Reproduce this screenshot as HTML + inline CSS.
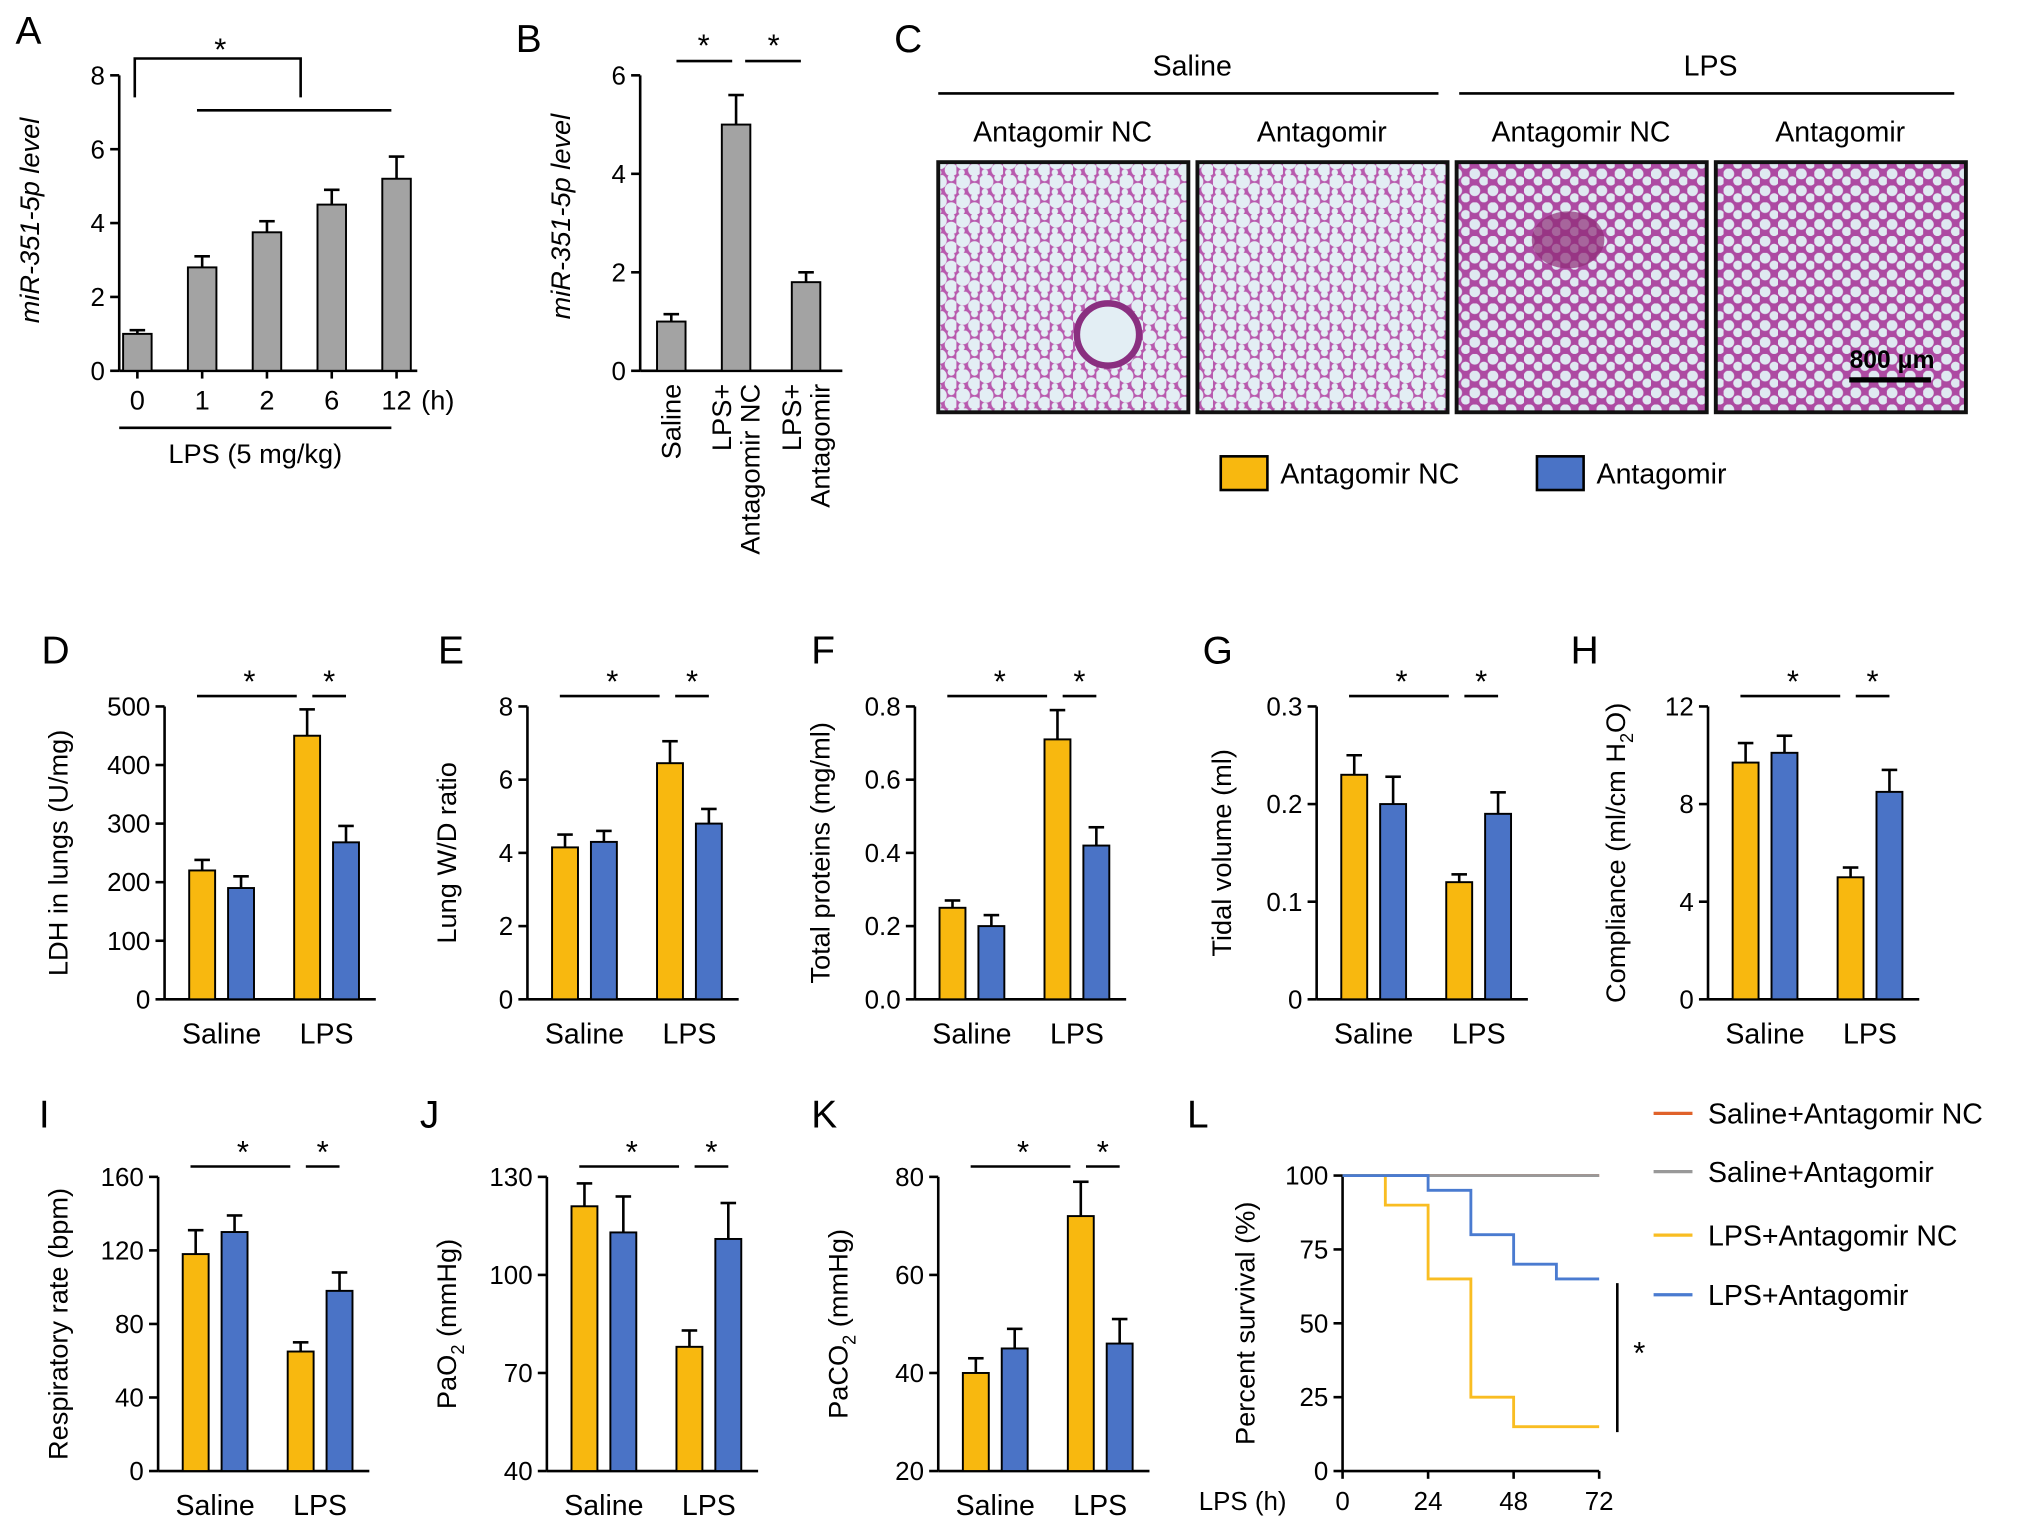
<!DOCTYPE html>
<html><head><meta charset="utf-8"><style>
html,body{margin:0;padding:0;background:#fff;}
svg{display:block;font-family:"Liberation Sans",Arial,sans-serif;}
</style></head><body>
<svg id="fig" width="2032" height="1536" viewBox="0 0 1568 1185" xmlns="http://www.w3.org/2000/svg">
<defs>
<pattern id="tis1" width="18" height="15" patternUnits="userSpaceOnUse">
<rect width="18" height="15" fill="#b85aae"/>
<circle cx="5" cy="5" r="5.6" fill="#e3eef4"/><circle cx="14" cy="11" r="5" fill="#e3eef4"/><circle cx="14" cy="2" r="2.8" fill="#e3eef4"/><circle cx="4" cy="13" r="2.5" fill="#e3eef4"/>
</pattern>
<pattern id="tis2" width="14" height="13" patternUnits="userSpaceOnUse">
<rect width="14" height="13" fill="#ad4aa2"/>
<circle cx="4" cy="4" r="4.2" fill="#dfe9f1"/><circle cx="11" cy="9.5" r="3.6" fill="#dfe9f1"/>
</pattern>
</defs>
<g id="root"></g>
</svg>
<script>
const NS='http://www.w3.org/2000/svg';
const root=document.getElementById('root');
function mk(tag,attrs,parent,txt){const e=document.createElementNS(NS,tag);for(const k in attrs)e.setAttribute(k,attrs[k]);if(txt!==undefined)e.textContent=txt;(parent||root).appendChild(e);return e;}
const YEL='#f8b80f',BLU='#4a73c6';

// ---------- data ----------
const aCats=['0','1','2','6','12'];
const aVals=[1,2.8,3.75,4.5,5.2];
const aErr=[0.1,0.3,0.3,0.4,0.6];
const aTicks=[0,2,4,6,8];
const bVals=[1,5,1.8];
const bErr=[0.15,0.6,0.2];
const bTicks=[0,2,4,6];
const groups=['Saline','LPS'];
const dNC=[220,450],dNCe=[18,45],dAG=[190,268],dAGe=[20,28],dTicks=[0,100,200,300,400,500];
const eNC=[4.15,6.45],eNCe=[0.35,0.6],eAG=[4.3,4.8],eAGe=[0.3,0.4],eTicks=[0,2,4,6,8];
const fNC=[0.25,0.71],fNCe=[0.02,0.08],fAG=[0.2,0.42],fAGe=[0.03,0.05],fTicks=[0,0.2,0.4,0.6,0.8];
const gNC=[0.23,0.12],gNCe=[0.02,0.008],gAG=[0.2,0.19],gAGe=[0.028,0.022],gTicks=[0,0.1,0.2,0.3];
const hNC=[9.7,5],hNCe=[0.8,0.4],hAG=[10.1,8.5],hAGe=[0.7,0.9],hTicks=[0,4,8,12];
const iNC=[118,65],iNCe=[13,5],iAG=[130,98],iAGe=[9,10],iTicks=[0,40,80,120,160];
const jNC=[121,78],jNCe=[7,5],jAG=[113,111],jAGe=[11,11],jTicks=[40,70,100,130];
const kNC=[40,72],kNCe=[3,7],kAG=[45,46],kAGe=[4,5],kTicks=[20,40,60,80];
const lTimes=[0,12,24,36,42,48,60,72];
const lSalNC=[100,100,100,100,100,100,100,100];
const lSalAG=[100,100,100,100,100,100,100,100];
const lLpsNC=[100,90,65,25,25,15,15,15];
const lLpsAG=[100,100,95,80,80,70,65,65];
const lTicks=[0,24,48,72];
const lYTicks=[0,25,50,75,100];

function letter(t,x,y){const e=mk('text',{x,y,'font-size':30},root,t);}
function line(x1,y1,x2,y2,g,w){return mk('line',{x1,y1,x2,y2,stroke:'#000','stroke-width':w||2},g);}
function star(x,y,g){const e=mk('text',{x,y,'font-size':24,'text-anchor':'middle'},g,'*');return e;}

function yAxis(g,ax,y0,y1,min,max,ticks,fmt){
  const sy=v=>y0-(v-min)/(max-min)*(y0-y1);
  line(ax,y0,ax,y1,g);
  ticks.forEach(t=>{line(ax-7,sy(t),ax,sy(t),g);const e=mk('text',{x:ax-11,y:sy(t)+7,'font-size':20,'text-anchor':'end'},g,fmt?fmt(t):t);});
  return sy;
}
function bar(g,cx,w,v,err,sy,fill,name){
  const y=sy(v);
  const base=g.__base;
  line(cx,sy(v+err),cx,y,g,2);line(cx-6,sy(v+err),cx+6,sy(v+err),g,2);
  const r=mk('rect',{x:cx-w/2,y:y,width:w,height:base-y,fill,stroke:'#000','stroke-width':1.5},g);
  
}
function ylabel(g,x,y,parts,italic){
  const t=mk('text',{x:0,y:0,'font-size':21,'text-anchor':'middle',transform:`translate(${x},${y}) rotate(-90)`,'font-style':italic?'italic':'normal'},g);
  parts.forEach(p=>{mk('tspan',p.sub?{'font-size':14,dy:6}:(p.after?{dy:-6}:{}),t,p.t);});
  
}

// ---------- Panel A ----------
(function(){
 const g=mk('g',{});
 letter('A',12,34);
 const y0=286,y1=58,sy=yAxis(g,92,y0,y1,0,8,aTicks);g.__base=y0;
 line(92,y0,322,y0,g);
 const xs=i=>106+i*50;
 aCats.forEach((c,i)=>{bar(g,xs(i),22,aVals[i],aErr[i],sy,'#a3a3a3','bar-'+c+'h');line(xs(i),y0,xs(i),y0+6,g);
  const e=mk('text',{x:xs(i),y:316,'font-size':21,'text-anchor':'middle'},g,c);});
 mk('text',{x:325,y:316,'font-size':21},g,'(h)');
 line(92,330,302,330,g);
 mk('text',{x:197,y:357,'font-size':21,'text-anchor':'middle'},g,'LPS (5 mg/kg)');
 mk('polyline',{points:'104,75 104,45 232,45 232,75',fill:'none',stroke:'#000','stroke-width':2},g);
 line(152,85,302,85,g);star(170,46,g);
 ylabel(g,30,170,[{t:'miR-351-5p level'}],true);
})();

// ---------- Panel B ----------
(function(){
 const g=mk('g',{});
 letter('B',398,40);
 const y0=286,y1=58,sy=yAxis(g,494,y0,y1,0,6,bTicks);g.__base=y0;
 line(494,y0,650,y0,g);
 const xs=[518,568,622];const labs=[['Saline'],['LPS+','Antagomir NC'],['LPS+','Antagomir']];
 bVals.forEach((v,i)=>{bar(g,xs[i],22,v,bErr[i],sy,'#a3a3a3','bar-b-'+i);
  const t=mk('text',{x:0,y:0,'font-size':21,'text-anchor':'end',transform:`translate(${xs[i]+7},${296}) rotate(-90)`},g);
  labs[i].forEach((l,k)=>mk('tspan',{x:0,dy:k?22:(labs[i].length>1?-11:0)},t,l));
  });
 line(522,47,565,47,g);line(575,47,618,47,g);star(543,43,g);star(597,43,g);
 ylabel(g,440,167,[{t:'miR-351-5p level'}],true);
})();

// ---------- Panel C ----------
(function(){
 const g=mk('g',{});
 letter('C',690,40);
 mk('text',{x:920,y:58,'font-size':22,'text-anchor':'middle'},g,'Saline');
 mk('text',{x:1320,y:58,'font-size':22,'text-anchor':'middle'},g,'LPS');
 line(724,72,1110,72,g);line(1126,72,1508,72,g);
 const xs=[724,924,1124,1324],labs=['Antagomir NC','Antagomir','Antagomir NC','Antagomir'],pats=['tis1','tis1','tis2','tis2'];
 xs.forEach((x,i)=>{mk('text',{x:x+96,y:109,'font-size':22,'text-anchor':'middle'},g,labs[i]);
  const r=mk('rect',{x,y:125,width:193,height:193,fill:`url(#${pats[i]})`,stroke:'#111','stroke-width':3},g);
  });
 mk('circle',{cx:855,cy:258,r:24,fill:'#e3eef4',stroke:'#8a2f80','stroke-width':5},g);
 mk('ellipse',{cx:1210,cy:185,rx:28,ry:22,fill:'#8f2c78',opacity:0.7},g);
 mk('text',{x:1460,y:284,'font-size':19,'text-anchor':'middle','font-weight':'bold'},g,'800 μm');
 line(1427,293,1490,293,g,4);
 const l=mk('g',{},g);
 mk('rect',{x:942,y:352,width:36,height:26,fill:YEL,stroke:'#000','stroke-width':2},l);
 mk('text',{x:988,y:373,'font-size':22},l,'Antagomir NC');
 mk('rect',{x:1186,y:352,width:36,height:26,fill:BLU,stroke:'#000','stroke-width':2},l);
 mk('text',{x:1232,y:373,'font-size':22},l,'Antagomir');
})();

// ---------- grouped bar panels ----------
function grouped(o){
 const g=mk('g',{});
 letter(o.id.toUpperCase(),o.lx,o.ly);
 const sy=yAxis(g,o.ax,o.y0,o.y1,o.min,o.max,o.ticks,o.fmt);g.__base=o.y0;
 line(o.ax,o.y0,o.ax+163,o.y0,g);
 const c=[o.ax+29,o.ax+59,o.ax+110,o.ax+140];
 for(let i=0;i<2;i++){
  bar(g,c[i*2],20,o.nc[i],o.nce[i],sy,YEL,'bar-'+groups[i].toLowerCase()+'-antagomir-nc');
  bar(g,c[i*2+1],20,o.ag[i],o.age[i],sy,BLU,'bar-'+groups[i].toLowerCase()+'-antagomir');
  const e=mk('text',{x:(c[i*2]+c[i*2+1])/2,y:o.y0+34,'font-size':22,'text-anchor':'middle'},g,groups[i]);
  
 }
 const sl=o.y1-8;
 line(c[0]-4,sl,c[2]-8,sl,g);line(c[2]+4,sl,c[3],sl,g);
 star((c[0]+c[2])/2-4,sl-3,g);star((c[2]+c[3])/2+2,sl-3,g);
 ylabel(g,o.tx,(o.y0+o.y1)/2,o.title);
}
const R2=[771,545],R3=[1135,908];
grouped({id:'d',lx:32,ly:512,ax:127,y0:R2[0],y1:R2[1],min:0,max:500,ticks:dTicks,nc:dNC,nce:dNCe,ag:dAG,age:dAGe,tx:52,title:[{t:'LDH in lungs (U/mg)'}]});
grouped({id:'e',lx:338,ly:512,ax:407,y0:R2[0],y1:R2[1],min:0,max:8,ticks:eTicks,nc:eNC,nce:eNCe,ag:eAG,age:eAGe,tx:352,title:[{t:'Lung W/D ratio'}]});
grouped({id:'f',lx:626,ly:512,ax:706,y0:R2[0],y1:R2[1],min:0,max:0.8,ticks:fTicks,fmt:t=>t.toFixed(1),nc:fNC,nce:fNCe,ag:fAG,age:fAGe,tx:640,title:[{t:'Total proteins (mg/ml)'}]});
grouped({id:'g',lx:928,ly:512,ax:1016,y0:R2[0],y1:R2[1],min:0,max:0.3,ticks:gTicks,fmt:t=>t===0?'0':t.toFixed(1),nc:gNC,nce:gNCe,ag:gAG,age:gAGe,tx:950,title:[{t:'Tidal volume (ml)'}]});
grouped({id:'h',lx:1212,ly:512,ax:1318,y0:R2[0],y1:R2[1],min:0,max:12,ticks:hTicks,nc:hNC,nce:hNCe,ag:hAG,age:hAGe,tx:1254,title:[{t:'Compliance (ml/cm H'},{t:'2',sub:1},{t:'O)',after:1}]});
grouped({id:'i',lx:30,ly:870,ax:122,y0:R3[0],y1:R3[1],min:0,max:160,ticks:iTicks,nc:iNC,nce:iNCe,ag:iAG,age:iAGe,tx:52,title:[{t:'Respiratory rate (bpm)'}]});
grouped({id:'j',lx:324,ly:870,ax:422,y0:R3[0],y1:R3[1],min:40,max:130,ticks:jTicks,nc:jNC,nce:jNCe,ag:jAG,age:jAGe,tx:352,title:[{t:'PaO'},{t:'2',sub:1},{t:' (mmHg)',after:1}]});
grouped({id:'k',lx:626,ly:870,ax:724,y0:R3[0],y1:R3[1],min:20,max:80,ticks:kTicks,nc:kNC,nce:kNCe,ag:kAG,age:kAGe,tx:654,title:[{t:'PaCO'},{t:'2',sub:1},{t:' (mmHg)',after:1}]});

// ---------- Panel L ----------
(function(){
 const g=mk('g',{});
 letter('L',916,870);
 const ax=1036,y0=1135,y1=907,x1=1234;
 const sy=yAxis(g,ax,y0,y1,0,100,lYTicks);
 const sx=t=>ax+t/72*(x1-ax);
 line(ax,y0,x1,y0,g);
 lTicks.forEach(t=>{line(sx(t),y0,sx(t),y0+6,g);const e=mk('text',{x:sx(t),y:y0+30,'font-size':20,'text-anchor':'middle'},g,t);});
 mk('text',{x:925,y:y0+30,'font-size':20},g,'LPS (h)');
 const series=[[lSalNC,'#e0622a','saline-antagomir-nc'],[lSalAG,'#999','saline-antagomir'],[lLpsNC,'#f9bd22','lps-antagomir-nc'],[lLpsAG,'#4a7bd0','lps-antagomir']];
 series.forEach(s=>{let d=`M${sx(lTimes[0])},${sy(s[0][0])}`;
  for(let i=1;i<lTimes.length;i++){d+=` H${sx(lTimes[i])} V${sy(s[0][i])}`;}
  const p=mk('path',{d,fill:'none',stroke:s[1],'stroke-width':2.2},g);});
 line(1248,990,1248,1105,g);star(1265,1052,g);
 ylabel(g,968,1021,[{t:'Percent survival (%)'}]);
 const labs=['Saline+Antagomir NC','Saline+Antagomir','LPS+Antagomir NC','LPS+Antagomir'],ly=[859,904,953,999];
 labs.forEach((l,i)=>{const lg=mk('g',{},g);
  mk('line',{x1:1276,y1:ly[i],x2:1306,y2:ly[i],stroke:series[i][1],'stroke-width':2.5},lg);
  mk('text',{x:1318,y:ly[i]+8,'font-size':22},lg,l);});
})();
</script>
</body></html>
